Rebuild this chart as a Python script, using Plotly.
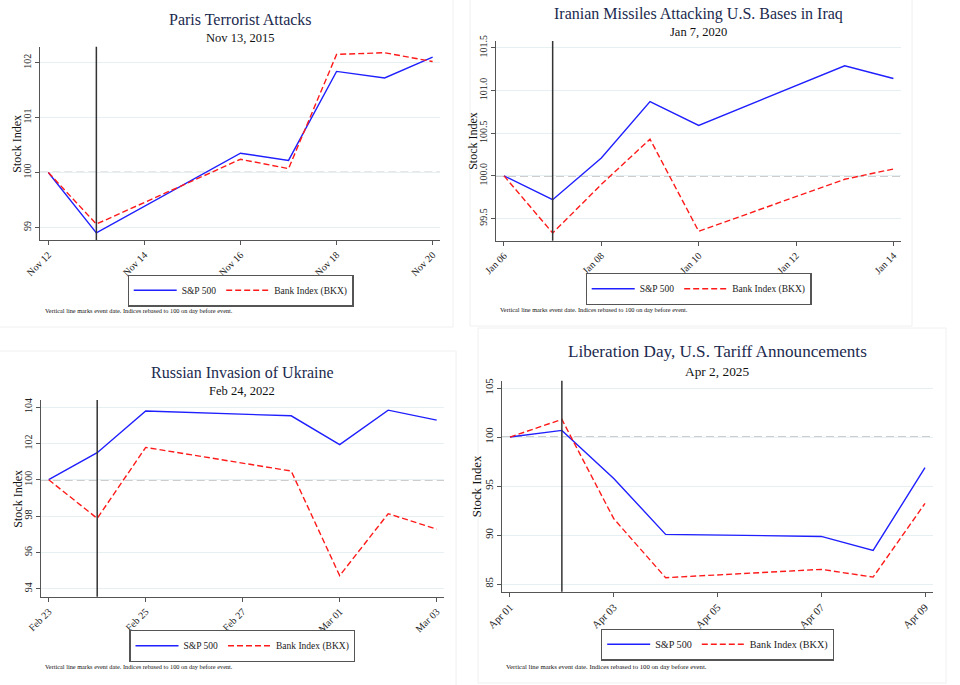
import plotly.graph_objects as go
import pandas as pd

# ---------------- data ----------------
paris_dates = ["2015-11-12", "2015-11-13", "2015-11-16", "2015-11-17", "2015-11-18", "2015-11-19", "2015-11-20"]
paris_sp500 = [100.0, 98.90, 100.35, 100.22, 101.84, 101.72, 102.10]
paris_bkx = [100.0, 99.06, 100.24, 100.07, 102.15, 102.18, 102.02]
paris_event = "2015-11-13"

iran_dates = ["2020-01-06", "2020-01-07", "2020-01-08", "2020-01-09", "2020-01-10", "2020-01-13", "2020-01-14"]
iran_sp500 = [100.0, 99.72, 100.21, 100.87, 100.59, 101.29, 101.14]
iran_bkx = [100.0, 99.33, 99.90, 100.43, 99.35, 99.96, 100.08]
iran_event = "2020-01-07"

ukraine_dates = ["2022-02-23", "2022-02-24", "2022-02-25", "2022-02-28", "2022-03-01", "2022-03-02", "2022-03-03"]
ukraine_sp500 = [100.0, 101.49, 103.78, 103.52, 101.93, 103.83, 103.28]
ukraine_bkx = [100.0, 97.87, 101.78, 100.48, 94.72, 98.13, 97.28]
ukraine_event = "2022-02-24"

liberation_dates = ["2025-04-01", "2025-04-02", "2025-04-03", "2025-04-04", "2025-04-07", "2025-04-08", "2025-04-09"]
liberation_sp500 = [100.0, 100.68, 95.78, 90.07, 89.86, 88.43, 96.87]
liberation_bkx = [100.0, 101.80, 91.67, 85.65, 86.50, 85.71, 93.23]
liberation_event = "2025-04-02"

titles = ["Paris Terrorist Attacks", "Iranian Missiles Attacking U.S. Bases in Iraq",
          "Russian Invasion of Ukraine", "Liberation Day, U.S. Tariff Announcements"]
subtitles = ["Nov 13, 2015", "Jan 7, 2020", "Feb 24, 2022", "Apr 2, 2025"]
series_names = ["S&P 500", "Bank Index (BKX)"]
y_title = "Stock Index"
note_text = "Vertical line marks event date. Indices rebased to 100 on day before event."
baseline = 100

# ---------------- layout / style ----------------
W, H = 960, 685
FONT = "Liberation Serif"
TITLE_COLOR = "#1b2a4e"
BLUE = "#1f1fff"
RED = "#ff1a1a"
AXIS = "#555555"
GRID = "#e6eff1"


def fx(p):
    return p / W


def fy(p):
    return 1 - p / H


panels = [
    dict(dates=paris_dates, sp=paris_sp500, bkx=paris_bkx, event=paris_event,
         box=(40.3, 440.0, 46.7, 240.0), yrange=(98.77, 102.29), dtick=1, fmt="d",
         pad=(0.167, 0.153), title=(240.0, 20.0), sub=(240.0, 37.7), ytitle=17.3,
         legend=(240.5, 290.5), note=(43.0, 310.7), scale=1.0),
    dict(dates=iran_dates, sp=iran_sp500, bkx=iran_bkx, event=iran_event,
         box=(496.0, 900.7, 41.0, 240.7), yrange=(99.24, 101.58), dtick=0.5, fmt=".1f",
         pad=(0.164, 0.15), title=(698.3, 14.0), sub=(698.3, 32.3), ytitle=473.0,
         legend=(698.5, 289.0), note=(498.3, 309.3), scale=1.0),
    dict(dates=ukraine_dates, sp=ukraine_sp500, bkx=ukraine_bkx, event=ukraine_event,
         box=(40.7, 444.0, 400.0, 596.7), yrange=(93.56, 104.39), dtick=2, fmt="d",
         pad=(0.165, 0.151), title=(242.3, 372.7), sub=(242.3, 391.0), ytitle=18.3,
         legend=(242.3, 646.0), note=(43.3, 666.7), scale=1.0),
    dict(dates=liberation_dates, sp=liberation_sp500, bkx=liberation_bkx, event=liberation_event,
         box=(502.0, 933.3, 380.7, 591.7), yrange=(84.22, 105.75), dtick=5, fmt="d",
         pad=(0.154, 0.16), title=(717.3, 351.7), sub=(717.3, 371.3), ytitle=477.0,
         legend=(717.5, 644.5), note=(504.3, 666.7), scale=1.07),
]

panel_frames = [(-1, -1, 453, 327), (470, -1, 912, 326), (-1, 351, 456, 686), (478, 328, 946, 683)]

fig = go.Figure()
annotations = []
shapes = []
layout_extra = {}

for i, p in enumerate(panels, start=1):
    sfx = "" if i == 1 else str(i)
    xa, ya = "x" + sfx, "y" + sfx
    leg = "legend" + sfx
    s = p["scale"]
    dates = pd.to_datetime(p["dates"])

    fig.add_trace(go.Scatter(x=dates, y=p["sp"], mode="lines", name=series_names[0],
                             line=dict(color=BLUE, width=1.4), xaxis=xa, yaxis=ya,
                             legend=leg, hoverinfo="skip"))
    fig.add_trace(go.Scatter(x=dates, y=p["bkx"], mode="lines", name=series_names[1],
                             line=dict(color=RED, width=1.4, dash="6px,3px"), xaxis=xa, yaxis=ya,
                             legend=leg, hoverinfo="skip"))

    x0, x1, y0, y1 = p["box"]
    xr = [dates[0] - pd.Timedelta(days=p["pad"][0]), dates[-1] + pd.Timedelta(days=p["pad"][1])]
    layout_extra["xaxis" + sfx] = dict(
        type="date", domain=[fx(x0), fx(x1)], anchor=ya, range=xr, automargin=False,
        tick0=dates[0], dtick=2 * 86400000, tickformat="%b %d", tickangle=-45,
        ticks="outside", ticklen=4, tickwidth=1, tickcolor=AXIS,
        showline=True, linecolor=AXIS, linewidth=1.3, showgrid=False, zeroline=False,
        tickfont=dict(family=FONT, size=10 * s, color="#222222"), fixedrange=True)
    layout_extra["yaxis" + sfx] = dict(
        domain=[fy(y1), fy(y0)], anchor=xa, range=list(p["yrange"]), automargin=False,
        tick0=0, dtick=p["dtick"], tickformat=p["fmt"], tickangle=-90,
        ticks="outside", ticklen=4, tickwidth=1, tickcolor=AXIS,
        showline=True, linecolor=AXIS, linewidth=1.3, showgrid=True, gridcolor=GRID,
        gridwidth=1, zeroline=False,
        tickfont=dict(family=FONT, size=10 * s, color="#222222"), fixedrange=True)

    layout_extra[leg] = dict(
        x=fx(p["legend"][0]), y=fy(p["legend"][1]), xanchor="center", yanchor="middle",
        orientation="h", bgcolor="white", bordercolor="#555555", borderwidth=1.2,
        font=dict(family=FONT, size=9.5 * s, color="#222222"), itemwidth=43,
        itemclick=False, itemdoubleclick=False)

    annotations.append(dict(text=titles[i - 1], x=fx(p["title"][0]), y=fy(p["title"][1]),
                            xref="paper", yref="paper", showarrow=False,
                            xanchor="center", yanchor="middle",
                            font=dict(family=FONT, size=16 * s, color=TITLE_COLOR)))
    annotations.append(dict(text=subtitles[i - 1], x=fx(p["sub"][0]), y=fy(p["sub"][1]),
                            xref="paper", yref="paper", showarrow=False,
                            xanchor="center", yanchor="middle",
                            font=dict(family=FONT, size=12.5 * s, color="#111111")))
    annotations.append(dict(text=y_title, x=fx(p["ytitle"]), y=fy((y0 + y1) / 2),
                            xref="paper", yref="paper", showarrow=False, textangle=-90,
                            xanchor="center", yanchor="middle",
                            font=dict(family=FONT, size=12 * s, color="#111111")))
    annotations.append(dict(text=note_text, x=fx(p["note"][0]), y=fy(p["note"][1]),
                            xref="paper", yref="paper", showarrow=False,
                            xanchor="left", yanchor="middle",
                            font=dict(family=FONT, size=6.3 * s, color="#111111")))

    shapes.append(dict(type="line", xref=xa + " domain", yref=ya, x0=0, x1=1,
                       y0=baseline, y1=baseline, layer="below",
                       line=dict(color="#9c9c9c", width=1.3, dash="8px,4px")))
    shapes.append(dict(type="line", xref=xa, yref=ya + " domain",
                       x0=pd.Timestamp(p["event"]), x1=pd.Timestamp(p["event"]), y0=0, y1=1,
                       layer="above", line=dict(color="#333333", width=1.5)))

for (a, b, c, d) in panel_frames:
    shapes.append(dict(type="rect", xref="paper", yref="paper", x0=fx(a), x1=fx(c),
                       y0=fy(b), y1=fy(d), layer="below",
                       line=dict(color="#f0f0f0", width=1)))

fig.update_layout(
    template="none",
    width=W, height=H, margin=dict(l=0, r=0, t=0, b=0, pad=0), autosize=False,
    paper_bgcolor="white", plot_bgcolor="white",
    font=dict(family=FONT, color="#111111"),
    annotations=annotations, shapes=shapes, **layout_extra)

fig.write_html("out.html", config={"displayModeBar": False})
